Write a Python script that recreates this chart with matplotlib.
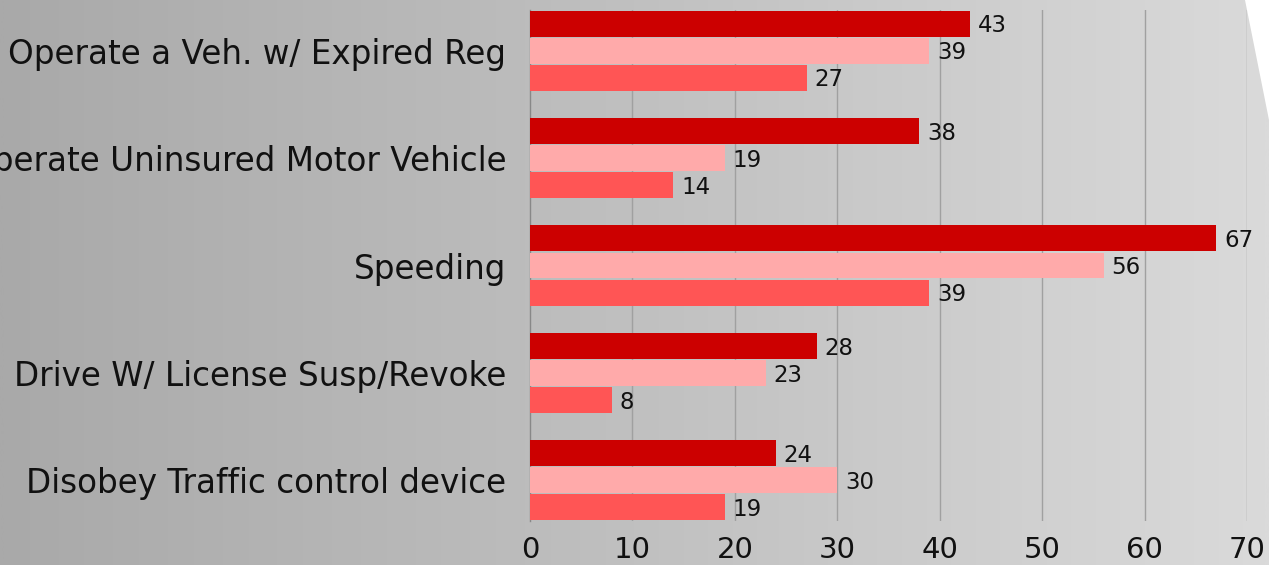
import numpy as np
import matplotlib
matplotlib.use("Agg")
import matplotlib.pyplot as plt
from matplotlib.patches import Polygon
from matplotlib.colors import LinearSegmentedColormap

categories = [
    "Operate a Veh. w/ Expired Reg",
    "Operate Uninsured Motor Vehicle",
    "Speeding",
    "Drive W/ License Susp/Revoke",
    "Disobey Traffic control device",
]
series_1 = [43, 38, 67, 28, 24]
series_2 = [39, 19, 56, 23, 30]
series_3 = [27, 14, 39, 8, 19]
x_ticks = [0, 10, 20, 30, 40, 50, 60, 70]

colors = ["#cc0000", "#ffaaaa", "#ff5555"]

plt.rcParams['font.family'] = ['DejaVu Sans']

W, H = 1269, 565
fig = plt.figure(figsize=(W / 100, H / 100), dpi=100)

# gradient background
bg = fig.add_axes([0, 0, 1, 1], zorder=0)
grad = np.linspace(0, 1, 512)[None, :]
cmap = LinearSegmentedColormap.from_list("bg", ["#a9a9a9", "#c0c0c0", "#dadada"])
bg.imshow(grad, aspect="auto", cmap=cmap, extent=[0, 1, 0, 1])
bg.add_patch(Polygon([[1245 / W, 1], [1, 1], [1, 1 - 120 / H]], closed=True,
                     facecolor="white", edgecolor="none"))
bg.set_xlim(0, 1)
bg.set_ylim(0, 1)
bg.axis("off")

left = 530 / W
right = 1247 / W
bottom = (H - 521) / H
top = (H - 10) / H
ax = fig.add_axes([left, bottom, right - left, top - bottom], zorder=1)
ax.patch.set_alpha(0)

n = len(categories)
y = np.arange(n)
h = 0.252
series = [series_1, series_2, series_3]
for i, (vals, c) in enumerate(zip(series, colors)):
    pos = y + (i - 1) * h
    bars = ax.barh(pos, vals, height=h * 0.96, color=c, zorder=3)
    for b, v in zip(bars, vals):
        ax.text(v + 0.75, b.get_y() + b.get_height() / 2 + 0.02, str(v),
                va="center", ha="left", fontsize=16.5, color="#111111", zorder=4)

ax.set_ylim(n - 1 + 1.5 * h, -1.5 * h)
ax.set_xlim(0, 70)
ax.set_yticks(y)
ax.set_yticklabels(categories, fontsize=23.5, color="#111111")
ax.set_xticks(x_ticks)
ax.set_xticklabels([str(t) for t in x_ticks], fontsize=21, color="#111111")
ax.tick_params(axis="both", length=0)
ax.tick_params(axis="y", pad=17)
ax.tick_params(axis="x", pad=11)
for t in x_ticks[1:]:
    ax.axvline(t, color="#a0a0a0", lw=1, zorder=1)
for s in ["top", "right", "bottom"]:
    ax.spines[s].set_visible(False)
ax.spines["left"].set_color("#888888")
ax.spines["left"].set_linewidth(1)

fig.savefig("out.png", dpi=100)
